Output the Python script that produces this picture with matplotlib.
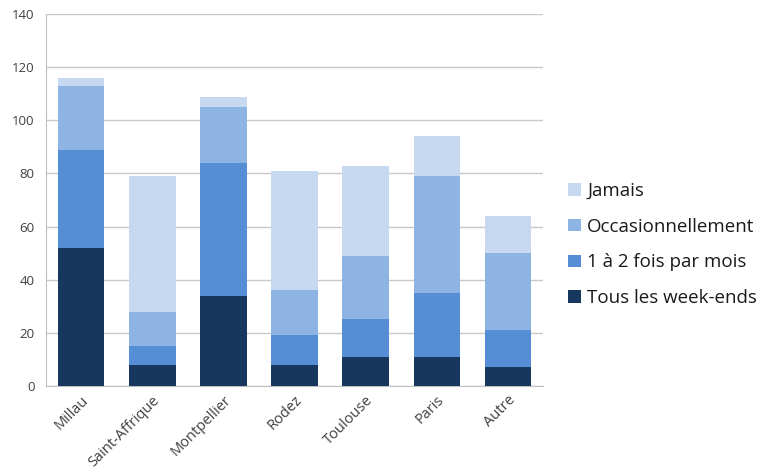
import matplotlib
matplotlib.use("Agg")
import matplotlib.pyplot as plt
from matplotlib.patches import Patch

plt.rcParams['font.family'] = ['Open Sans', 'DejaVu Sans']

categories = ["Millau", "Saint-Affrique", "Montpellier", "Rodez", "Toulouse", "Paris", "Autre"]
tous_we = [52, 8, 34, 8, 11, 11, 7]
un_deux = [37, 7, 50, 11, 14, 24, 14]
occas = [24, 13, 21, 17, 24, 44, 29]
jamais = [3, 51, 4, 45, 34, 15, 14]

series = [("Tous les week-ends", tous_we, "#17375e"),
          ("1 à 2 fois par mois", un_deux, "#558ed5"),
          ("Occasionnellement", occas, "#8eb4e3"),
          ("Jamais", jamais, "#c6d9f1")]

fig = plt.figure(figsize=(7.64, 4.74), dpi=100)
ax = fig.add_axes([0.060, 0.186, 0.651, 0.784])

x = list(range(len(categories)))
bottom = [0] * len(categories)
for name, vals, col in series:
    ax.bar(x, vals, bottom=bottom, width=0.65, color=col, label=name, zorder=3)
    bottom = [b + v for b, v in zip(bottom, vals)]

ax.set_xlim(-0.5, len(categories) - 0.5)
ax.set_ylim(0, 140)
ax.set_yticks(range(0, 141, 20))
ax.yaxis.grid(True, color="#c8c8c8", linewidth=1, zorder=0)
ax.set_axisbelow(True)
for s in ["top", "right"]:
    ax.spines[s].set_visible(False)
ax.spines["left"].set_color("#bfbfbf")
ax.spines["bottom"].set_color("#bfbfbf")
ax.tick_params(axis="y", length=0, labelsize=9.5, colors="#404040", pad=8)
ax.tick_params(axis="x", length=0, labelsize=10.5, colors="#404040", pad=5)
ax.set_xticks(x)
ax.set_xticklabels(categories, rotation=45, ha="right", rotation_mode="anchor")

handles = [Patch(facecolor=c, label=n) for n, v, c in series][::-1]
fig.legend(handles=handles, loc="center left", bbox_to_anchor=(0.722, 0.484),
           frameon=False, fontsize=13.5, handlelength=0.65, handleheight=0.65,
           handletextpad=0.35, labelspacing=0.95, labelcolor="#1a1a1a")

fig.savefig("out.png", dpi=100)
